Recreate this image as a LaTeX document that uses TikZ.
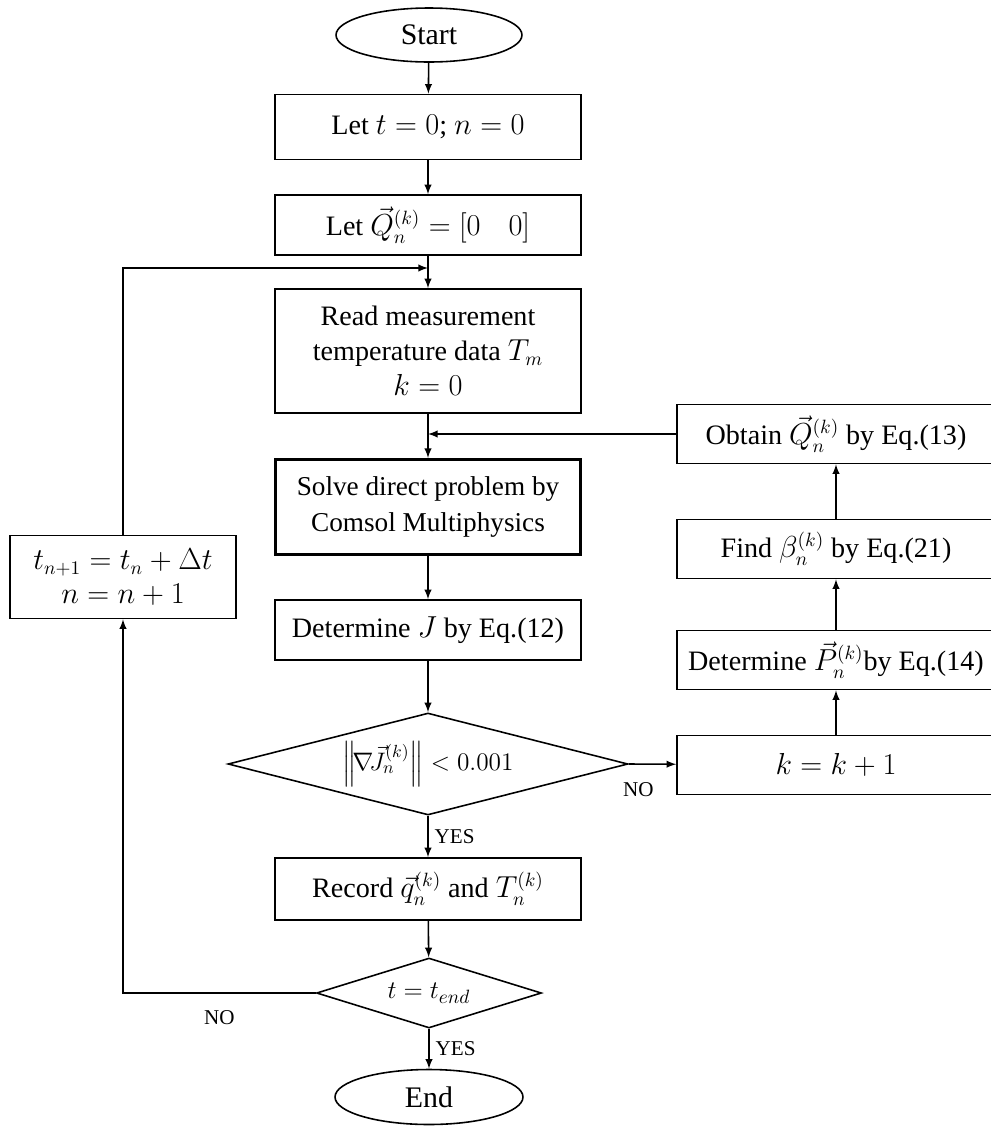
\documentclass[tikz,border=0pt]{standalone}
\usepackage{amsmath}
\usepackage{amssymb}
\usepackage{fontspec}
\setmainfont{Liberation Serif}
\usepackage{tikz}
\usetikzlibrary{calc}
\usetikzlibrary{shapes.geometric}
\newcommand{\vq}[1]{\ensuremath{ \vec{#1} }}

\begin{document}
\begin{tikzpicture}[x=0.02cm,y=-0.02cm,>=latex,line width=0.9pt,
    font=\fontsize{16}{20}\selectfont,
    box/.style={rectangle,draw,align=center,inner sep=2pt,minimum width=6.12cm},
    sidebox/.style={rectangle,draw,align=center,inner sep=1pt,minimum width=6.36cm,minimum height=1.18cm},
    decision/.style={diamond,draw,inner sep=0pt},
    term/.style={ellipse,draw,inner sep=0pt,font=\fontsize{17}{20}\selectfont},
    answer/.style={font=\fontsize{12}{14}\selectfont}]
    \useasboundingbox (0,0) rectangle (991,1130);
    % main column
    \node[term,minimum width=3.72cm,minimum height=1.08cm] (start) at (429,35) {Start};
    \node[box,minimum height=1.3cm] (init) at (428,127) {Let $t = 0$; $n = 0$};
    \node[box,minimum height=1.2cm] (zeroq) at (428,225) {Let $\vq{Q}_n^{(k)} = [0\quad 0]$};
    \node[box,minimum height=2.48cm] (read) at (428,351) {Read measurement\\temperature data $T_m$\\$k = 0$};
    \node[box,minimum height=1.9cm,line width=1.7pt,font=\fontsize{15.5}{20}\selectfont] (solve) at (428,507) {Solve direct problem by\\Comsol Multiphysics};
    \node[box,minimum height=1.2cm] (detj) at (428,630) {Determine $J$ by Eq.(12)};
    \node[decision,aspect=3.92,minimum width=8cm,minimum height=2.04cm,font=\fontsize{14.5}{17}\selectfont] (conv) at (428,764) {$\Bigl\|\!\nabla\!\vq{J}_n^{(k)}\Bigr\| < 0.001$};
    \node[box,minimum height=1.24cm] (record) at (428,889) {Record $\vq{q}_n^{(k)}$ and $T_n^{(k)}$};
    \node[decision,aspect=3.2,minimum width=4.5cm,minimum height=1.4cm,font=\fontsize{15}{18}\selectfont] (tend) at (429,993) {$t = t_{end}$};
    \node[term,minimum width=3.76cm,minimum height=1.1cm] (stop) at (429,1097) {End};
    % time step
    \node[rectangle,draw,align=center,minimum width=4.52cm,minimum height=1.66cm,font=\fontsize{16}{19}\selectfont] (step) at (123,577) {$t_{n+1} = t_n + \Delta t$\\$n = n + 1$};
    % iteration column
    \node[sidebox] (inck) at (836,765) {$k = k + 1$};
    \node[sidebox] (detp) at (836,660) {Determine $\vq{P}_n^{(k)}$by Eq.(14)};
    \node[sidebox] (beta) at (836,549) {Find $\beta_n^{(k)}$ by Eq.(21)};
    \node[sidebox] (obtq) at (836,434) {Obtain $\vq{Q}_n^{(k)}$ by Eq.(13)};
    \coordinate (loopin) at (428,268);
    \coordinate (iterin) at (428,434);
    % connectors
    \path[->] (start) edge (init);
    \path[->] (init) edge (zeroq);
    \path[->] (zeroq) edge (read);
    \path[->] (read) edge (solve);
    \path[->] (solve) edge (detj);
    \path[->] (detj) edge (conv);
    \path[->] (conv) edge node[answer,right] {YES} (record);
    \path[->] (record) edge (tend);
    \path[->] (tend) edge node[answer,right] {YES} (stop);
    \path[->] (conv.east) edge node[answer,pos=0.2,below=7pt] {NO} (inck);
    \path[->] (inck) edge (detp);
    \path[->] (detp) edge (beta);
    \path[->] (beta) edge (obtq);
    \draw[->] (obtq.west) -- (iterin);
    \draw[->] (tend.west) -- node[answer,below=6pt] {NO} (tend.west -| step.south) -- (step.south);
    \draw[->] (step.north) |- (loopin);
  \end{tikzpicture}
\end{document}
